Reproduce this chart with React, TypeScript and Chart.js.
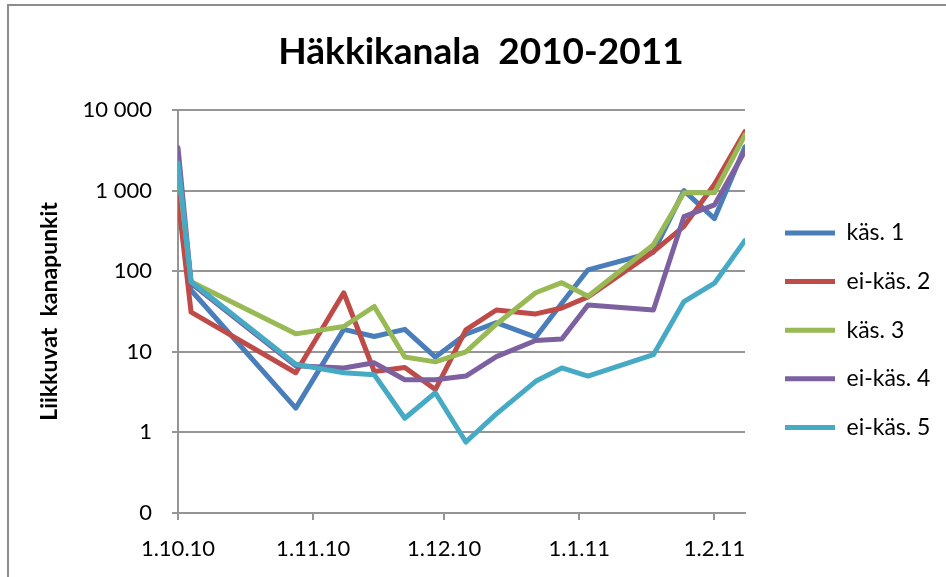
import React, { useEffect, useRef } from 'react';
import { Chart, registerables } from 'chart.js';

Chart.register(...registerables);

// ---- data ----
const seriesNames = ['käs. 1', 'ei-käs. 2', 'käs. 3', 'ei-käs. 4', 'ei-käs. 5'];
const seriesColors = ['#4a7ebb', '#be4b48', '#98b954', '#7d60a0', '#46aac5'];
// days since 1.10.2010
const sampleDays = [0, 3, 27, 38, 45, 52, 59, 66, 73, 82, 88, 94, 109, 116, 123, 130];
const kas1 = [1100, 58, 2.0, 19, 15.5, 19, 8.6, 16.5, 23, 15.2, 40, 104, 172, 1000, 450, 3500];
const eiKas2 = [800, 31, 5.5, 54, 5.7, 6.4, 3.4, 18.7, 33, 29.5, 35, 48, 175, 360, 1200, 5400];
const kas3 = [2000, 74, 16.7, 20.6, 36.5, 8.6, 7.5, 10, 22, 54, 72, 49, 213, 940, 940, 4900];
const eiKas4 = [3400, 71, 6.7, 6.3, 7.3, 4.5, 4.5, 5.0, 8.7, 13.8, 14.4, 38, 33, 475, 665, 3100];
const eiKas5 = [2200, 74, 7.0, 5.5, 5.2, 1.5, 3.1, 0.76, 1.7, 4.3, 6.3, 5.0, 9.2, 42, 71, 240];
const seriesValues = [kas1, eiKas2, kas3, eiKas4, eiKas5];

const xTickDays = [0, 31, 61, 92, 123];
const xTickLabels = ['1.10.10', '1.11.10', '1.12.10', '1.1.11', '1.2.11'];
const xMin = 0;
const xMax = 130;
const yTickValues = [0.1, 1, 10, 100, 1000, 10000];
const yTickLabels = ['0', '1', '10', '100', '1 000', '10 000'];

const titleText = 'Häkkikanala  2010-2011';
const yTitleText = 'Liikkuvat  kanapunkit';

export default function App() {
  const ref = useRef<HTMLCanvasElement>(null);

  useEffect(() => {
    const canvas = ref.current;
    if (!canvas) return;
    const family = 'Lato, "Open Sans", sans-serif';
    const gridColor = '#959595';

    // layout targets
    const W = 946, H = 577;
    const plotLeft = 178, plotRight = 745, plotTop = 110, plotBottom = 513;
    const titleSize = 37;
    const titleCenterY = 52;
    const tickSize = 22;
    const legendFontSize = 23;
    const legendSpacing = 48.6;
    const legendPad = legendSpacing - legendFontSize;
    const lineSampleW = 50;
    const legendLineX = 785;
    const legendFirstY = 233;

    const mctx = canvas.getContext('2d')!;
    mctx.font = `${legendFontSize}px ${family}`;
    const maxText = Math.max(...seriesNames.map((n) => mctx.measureText(n).width));
    const legendW = legendPad + lineSampleW + legendFontSize / 2 + maxText + 10;
    const padRight = Math.max(0, W - plotRight - legendW);
    const padLeft = padRight + 16;

    const titleLH = titleSize * 1.2;
    const titlePadTop = titleCenterY - titleLH / 2;
    const titlePadBottom = plotTop - titlePadTop - titleLH;

    const yTitleSize = 23;
    const yTitlePadTop = Math.max(0, 45 - padLeft - (yTitleSize * 1.2) / 2);

    const legendShift = {
      id: 'legendShift',
      afterLayout(chart: any) {
        const lg = chart.legend;
        if (!lg) return;
        const dx = legendLineX - (lg.left + legendPad);
        const colH = seriesNames.length * (legendFontSize + legendPad);
        const firstCenter = (lg.top + legendPad + lg.bottom - colH) / 2 + legendFontSize / 2;
        const dy = legendFirstY - firstCenter;
        lg.left += dx;
        lg.right += dx;
        lg.top += dy;
        lg.bottom += dy;
      },
    };

    const datasets = seriesNames.map((name, i) => ({
      label: name,
      data: sampleDays.map((d, j) => ({ x: d, y: seriesValues[i][j] })),
      borderColor: seriesColors[i],
      backgroundColor: seriesColors[i],
      borderWidth: 5,
      pointRadius: 0,
      pointHoverRadius: 0,
      tension: 0,
      borderCapStyle: 'round' as const,
      borderJoinStyle: 'round' as const,
      order: seriesNames.length - 1 - i,
    }));

    const chart = new Chart(canvas, {
      type: 'line',
      data: { datasets },
      plugins: [legendShift],
      options: {
        responsive: false,
        maintainAspectRatio: false,
        devicePixelRatio: 1,
        animation: false,
        layout: { padding: { left: padLeft, right: padRight, top: 0, bottom: 0 } },
        font: { family },
        plugins: {
          title: {
            display: true,
            text: titleText,
            color: '#000',
            font: { family, size: titleSize, weight: 'bold' },
            padding: { top: titlePadTop, bottom: titlePadBottom },
          },
          legend: {
            display: true,
            position: 'right',
            align: 'center',
            labels: {
              usePointStyle: true,
              pointStyle: 'line',
              pointStyleWidth: lineSampleW,
              boxHeight: legendFontSize,
              padding: legendPad,
              color: '#000',
              font: { family, size: legendFontSize },
              sort: (a: any, b: any) => a.datasetIndex - b.datasetIndex,
            },
          },
          tooltip: { enabled: false },
        },
        scales: {
          x: {
            type: 'linear',
            min: xMin,
            max: xMax,
            afterBuildTicks: (scale: any) => {
              scale.ticks = xTickDays.map((v) => ({ value: v }));
            },
            afterFit: (scale: any) => {
              scale.height = H - plotBottom;
            },
            ticks: {
              autoSkip: false,
              maxRotation: 0,
              minRotation: 0,
              color: '#000',
              padding: 16,
              font: { family, size: tickSize },
              callback: (value: any) => {
                const idx = xTickDays.indexOf(Number(value));
                return idx >= 0 ? xTickLabels[idx] : '';
              },
            },
            grid: {
              drawOnChartArea: false,
              drawTicks: true,
              tickLength: 7,
              color: gridColor,
              lineWidth: 2,
            },
            border: { display: true, color: gridColor, width: 2 },
          },
          y: {
            type: 'logarithmic',
            min: yTickValues[0],
            max: yTickValues[yTickValues.length - 1],
            afterBuildTicks: (scale: any) => {
              scale.ticks = yTickValues.map((v) => ({ value: v }));
            },
            afterFit: (scale: any) => {
              scale.width = plotLeft - padLeft;
            },
            ticks: {
              autoSkip: false,
              color: '#000',
              padding: 20,
              font: { family, size: tickSize },
              callback: (value: any) => {
                const idx = yTickValues.findIndex((v) => Math.abs(v - Number(value)) < v * 1e-6);
                return idx >= 0 ? yTickLabels[idx] : '';
              },
            },
            title: {
              display: true,
              text: yTitleText,
              color: '#000',
              font: { family, size: yTitleSize, weight: 'bold' },
              padding: { top: yTitlePadTop, bottom: 0 },
            },
            grid: {
              drawOnChartArea: true,
              drawTicks: true,
              tickLength: 6,
              color: gridColor,
              lineWidth: 2,
            },
            border: { display: true, color: gridColor, width: 2 },
          },
        },
      },
    } as any);

    return () => {
      chart.destroy();
    };
  }, []);

  return (
    <>
      <div
        style={{
          position: 'fixed',
          left: 7,
          top: 4,
          width: 939,
          height: 573,
          borderTop: '2px solid #8c8c8c',
          borderLeft: '2px solid #8c8c8c',
          boxSizing: 'border-box',
        }}
      />
      <canvas
        ref={ref}
        width={946}
        height={577}
        style={{ position: 'fixed', left: 0, top: 0, width: 946, height: 577 }}
      />
    </>
  );
}
